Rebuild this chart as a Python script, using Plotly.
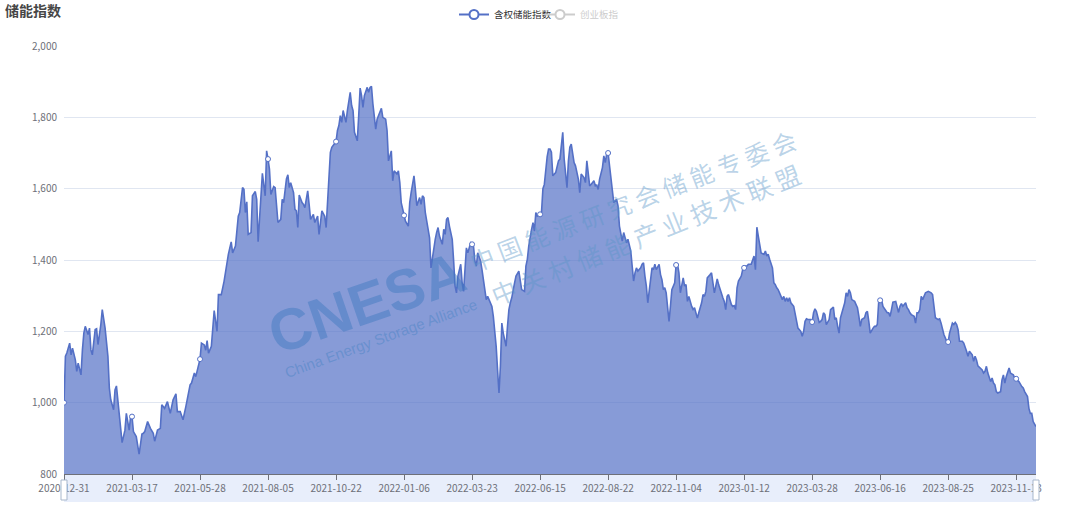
import plotly.graph_objects as go

# (trading-day index since 2020-12-31, index value)
readings_2021 = [
    (0, 1000), (1, 1130), (2, 1139), (4, 1167), (5, 1134), (6, 1153), (8, 1120), (9, 1088), (10, 1111),
    (12, 1078), (13, 1148), (14, 1195), (15, 1214), (17, 1191), (18, 1209), (19, 1148), (20, 1134),
    (22, 1205), (23, 1207), (24, 1163), (26, 1219), (27, 1261), (29, 1209), (31, 1130), (32, 1041),
    (33, 1008), (35, 980), (36, 1036), (37, 1047), (39, 970), (40, 933), (41, 888), (43, 923), (44, 970),
    (46, 923), (47, 961), (48, 961), (49, 919), (51, 905), (53, 856), (55, 912), (56, 914), (57, 919),
    (59, 947), (61, 928), (63, 914), (64, 892), (66, 923), (68, 928), (69, 994), (71, 984), (73, 1003),
    (75, 970), (77, 1008), (79, 1025), (80, 975), (82, 975), (83, 966), (84, 952), (86, 989), (87, 1013),
    (89, 1050), (90, 1055), (92, 1083), (93, 1073), (96, 1122), (97, 1167), (99, 1162), (100, 1147),
    (101, 1174), (102, 1139), (104, 1158), (106, 1258), (108, 1200), (109, 1303), (111, 1303), (113, 1341),
    (115, 1397), (116, 1416), (118, 1451), (119, 1420), (121, 1439), (123, 1523), (124, 1533), (126, 1603),
    (127, 1598), (128, 1533), (129, 1563), (130, 1472), (132, 1477), (133, 1580), (135, 1592), (136, 1570),
    (137, 1451), (139, 1598), (140, 1643), (142, 1580), (143, 1706), (144, 1683), (145, 1655), (146, 1584),
    (148, 1606), (149, 1603), (151, 1505), (153, 1514), (154, 1570), (155, 1561), (157, 1627), (158, 1639),
    (159, 1603), (160, 1617), (162, 1589), (163, 1542), (164, 1538), (165, 1491), (166, 1582), (168, 1561),
    (169, 1556), (170, 1547), (172, 1594), (173, 1556), (174, 1514), (176, 1528), (177, 1505), (179, 1523),
    (180, 1472), (182, 1538), (184, 1523), (185, 1491), (186, 1575), (188, 1702), (189, 1716), (192, 1732),
    (193, 1763), (194, 1777), (195, 1805), (196, 1786), (197, 1819), (199, 1786), (200, 1819), (201, 1842),
    (202, 1870), (203, 1833), (204, 1819), (205, 1758), (207, 1734), (208, 1805), (209, 1882), (210, 1861),
    (211, 1828), (212, 1861), (214, 1884), (215, 1870), (216, 1884), (217, 1887), (218, 1838), (220, 1767),
    (221, 1795), (222, 1805), (224, 1825), (225, 1800), (227, 1795), (228, 1763), (229, 1678), (231, 1706),
    (232, 1622), (233, 1650), (235, 1641), (236, 1650),
]
readings_2022 = [
    (237, 1617), (238, 1561), (240, 1525), (241, 1509), (243, 1495), (244, 1561), (245, 1589), (247, 1636),
    (248, 1598), (249, 1552), (251, 1575), (252, 1556), (253, 1580), (254, 1575), (255, 1533), (257, 1481),
    (258, 1462), (259, 1378), (261, 1439), (262, 1458), (263, 1477), (264, 1491), (265, 1467), (267, 1444),
    (268, 1486), (269, 1472), (270, 1514), (271, 1519), (272, 1495), (274, 1458), (275, 1397), (276, 1327),
    (277, 1308), (278, 1355), (280, 1388), (281, 1336), (282, 1312), (283, 1388), (284, 1434), (285, 1420),
    (287, 1448), (288, 1444), (289, 1439), (290, 1397), (291, 1383), (292, 1420), (294, 1397), (295, 1373),
    (296, 1345), (297, 1308), (298, 1289), (299, 1298), (301, 1280), (302, 1270), (303, 1242), (304, 1205),
    (305, 1158), (306, 1092), (307, 1027), (308, 1102), (309, 1223), (310, 1195), (312, 1158), (313, 1214),
    (314, 1261), (315, 1280), (316, 1294), (318, 1336), (319, 1355), (321, 1369), (322, 1336), (323, 1317),
    (325, 1312), (326, 1383), (327, 1402), (328, 1439), (330, 1486), (331, 1505), (332, 1481), (333, 1533),
    (334, 1523), (336, 1528), (337, 1533), (338, 1600), (339, 1612), (340, 1660), (341, 1690), (342, 1711),
    (343, 1711), (344, 1702), (345, 1636), (347, 1645), (348, 1664), (349, 1678), (350, 1683), (351, 1720),
    (352, 1758), (353, 1683), (354, 1645), (355, 1603), (356, 1678), (357, 1716), (358, 1725), (360, 1673),
    (361, 1664), (362, 1645), (363, 1627), (364, 1589), (365, 1641), (367, 1631), (368, 1617), (369, 1678),
    (370, 1636), (371, 1608), (372, 1612), (374, 1622), (375, 1608), (376, 1610), (377, 1598), (378, 1627),
    (380, 1659), (381, 1692), (382, 1673), (383, 1697), (384, 1700), (385, 1664), (386, 1627), (387, 1598),
    (388, 1561), (390, 1570), (391, 1552), (392, 1495), (393, 1467), (394, 1453), (395, 1477), (396, 1462),
    (397, 1448), (398, 1458), (400, 1425), (401, 1383), (402, 1341), (403, 1364), (404, 1378), (405, 1369),
    (407, 1378), (408, 1388), (409, 1392), (410, 1355), (411, 1327), (412, 1280), (414, 1345), (415, 1378),
    (416, 1373), (417, 1388), (418, 1373), (420, 1388), (421, 1359), (422, 1345), (423, 1317), (424, 1322),
    (425, 1308), (426, 1260), (427, 1228), (428, 1270), (429, 1317), (431, 1336), (432, 1386), (433, 1388),
    (434, 1364), (435, 1308), (437, 1350), (438, 1327), (439, 1331), (440, 1284), (441, 1298), (443, 1270),
    (444, 1261), (445, 1266), (446, 1252), (447, 1237), (448, 1252), (450, 1280), (451, 1303), (452, 1298),
    (453, 1312), (454, 1350), (456, 1359), (457, 1364), (458, 1336), (459, 1308), (460, 1327), (461, 1347),
    (462, 1331), (463, 1317), (465, 1294), (466, 1284), (467, 1261), (468, 1298), (469, 1303), (471, 1275),
    (472, 1270), (473, 1272),
]
readings_2023 = [
    (474, 1261), (475, 1322), (476, 1341), (478, 1355), (479, 1373), (480, 1378), (481, 1383), (482, 1383),
    (483, 1388), (485, 1388), (486, 1397), (487, 1411), (488, 1373), (489, 1492), (490, 1467), (491, 1439),
    (492, 1420), (494, 1416), (495, 1425), (496, 1411), (497, 1416), (498, 1402), (500, 1378), (501, 1336),
    (502, 1331), (503, 1322), (504, 1317), (505, 1308), (507, 1289), (508, 1298), (509, 1284), (510, 1294),
    (511, 1284), (512, 1294), (513, 1280), (515, 1270), (516, 1252), (517, 1228), (518, 1209), (520, 1200),
    (521, 1186), (522, 1200), (523, 1228), (524, 1235), (525, 1233), (527, 1233), (528, 1226), (529, 1252),
    (530, 1263), (531, 1256), (533, 1225), (534, 1228), (535, 1233), (536, 1252), (537, 1247), (538, 1219),
    (540, 1233), (541, 1261), (542, 1266), (543, 1268), (544, 1233), (545, 1238), (546, 1214), (547, 1195),
    (548, 1238), (549, 1252), (551, 1280), (552, 1308), (553, 1298), (554, 1317), (555, 1308), (556, 1289),
    (558, 1284), (559, 1275), (560, 1266), (561, 1242), (562, 1214), (563, 1233), (565, 1238), (566, 1252),
    (567, 1256), (568, 1228), (569, 1195), (571, 1209), (572, 1214), (573, 1214), (574, 1219), (575, 1284),
    (576, 1287), (577, 1289), (578, 1270), (580, 1256), (581, 1252), (582, 1252), (583, 1242), (584, 1261),
    (585, 1282), (587, 1284), (588, 1270), (589, 1253), (590, 1270), (591, 1278), (592, 1270), (594, 1280),
    (595, 1266), (596, 1261), (597, 1252), (598, 1247), (600, 1242), (601, 1223), (602, 1252), (603, 1252),
    (604, 1261), (605, 1298), (606, 1289), (607, 1298), (608, 1308), (610, 1312), (611, 1310), (612, 1308),
    (613, 1303), (614, 1270), (615, 1238), (617, 1233), (618, 1235), (619, 1223), (620, 1205), (621, 1191),
    (623, 1172), (624, 1170), (625, 1195), (627, 1223), (628, 1219), (629, 1225), (630, 1219), (631, 1205),
    (632, 1172), (634, 1172), (635, 1167), (636, 1158), (637, 1144), (638, 1130), (639, 1144), (641, 1134),
    (642, 1116), (643, 1130), (644, 1120), (645, 1103), (647, 1097), (648, 1092), (649, 1083), (650, 1088),
    (651, 1102), (652, 1083), (654, 1059), (655, 1069), (656, 1055), (657, 1050), (658, 1031), (659, 1027),
    (661, 1031), (662, 1064), (663, 1078), (664, 1055), (665, 1073), (667, 1097), (668, 1083), (669, 1081),
    (670, 1078), (671, 1069), (672, 1067), (674, 1059), (675, 1050), (676, 1045), (677, 1041), (678, 1031),
    (680, 1017), (681, 984), (682, 970), (683, 970), (684, 947), (685, 938), (686, 933),
]

tick_labels = ["2020-12-31", "2021-03-17", "2021-05-28", "2021-08-05", "2021-10-22", "2022-01-06",
               "2022-03-23", "2022-06-15", "2022-08-22", "2022-11-04", "2023-01-12", "2023-03-28",
               "2023-06-16", "2023-08-25", "2023-11-13"]
label_every = 48  # trading days between axis labels
last_day = 686

series_names = ["含权储能指数", "创业板指"]
title_text = "储能指数"

readings = readings_2021 + readings_2022 + readings_2023
days = [d for d, _ in readings]
values = [v for _, v in readings]
value_by_day = dict(readings)
tick_days = [i * label_every for i in range(len(tick_labels))]

BLUE = "#5470c6"
FILL = "rgba(84,112,198,0.7)"
CJK = "Noto Sans CJK SC"

fig = go.Figure()
fig.add_trace(go.Scatter(
    x=days, y=values, mode="lines", line=dict(color=BLUE, width=1.6),
    fill="tozeroy", fillcolor=FILL, showlegend=False, hoverinfo="skip"))
fig.add_trace(go.Scatter(
    x=tick_days, y=[value_by_day[d] for d in tick_days], mode="markers",
    marker=dict(symbol="circle", size=5, color="white", line=dict(color=BLUE, width=1)),
    showlegend=False, hoverinfo="skip"))
fig.add_trace(go.Scatter(
    x=[None], y=[None], mode="lines+markers", name=series_names[0],
    line=dict(color=BLUE, width=2),
    marker=dict(symbol="circle", size=9, color="white", line=dict(color=BLUE, width=2)),
    legend="legend"))
fig.add_trace(go.Scatter(
    x=[None], y=[None], mode="lines+markers", name=series_names[1],
    line=dict(color="#cccccc", width=2),
    marker=dict(symbol="circle", size=9, color="white", line=dict(color="#cccccc", width=2)),
    legend="legend2"))

L, R, T, B = 64, 44, 46, 31
W, H = 1080, 505
pw, ph = W - L - R, H - T - B


def px(xp):
    return (xp - L) / pw


def py(yp):
    return (H - B - yp) / ph


shapes = [
    # data zoom slider band
    dict(type="rect", xref="x domain", yref="paper", x0=0, x1=1, y0=py(502), y1=py(474.5),
         fillcolor="#e8eefb", line=dict(width=0), layer="below"),
    dict(type="rect", xref="x domain", yref="paper", x0=-3 / pw, x1=3 / pw, y0=py(500), y1=py(480),
         fillcolor="white", line=dict(color="#a7b7cc", width=1), layer="above"),
    dict(type="rect", xref="x domain", yref="paper", x0=1 - 3 / pw, x1=1 + 3 / pw, y0=py(500), y1=py(480),
         fillcolor="white", line=dict(color="#a7b7cc", width=1), layer="above"),
]


def mark(text, x, y, angle, family, size, color):
    return dict(text=text, xref="paper", yref="paper", x=px(x), y=py(y), xanchor="center",
                yanchor="middle", showarrow=False, textangle=angle,
                font=dict(family=family, size=size, color=color))


annotations = [
    dict(text=f"<b>{title_text}</b>", xref="paper", yref="paper", x=px(3), y=py(10),
         xanchor="left", yanchor="middle", showarrow=False,
         font=dict(family=CJK, size=14, color="#464646")),
    # watermark
    mark("<b>CNESA</b>", 366, 302, -19, "Liberation Sans", 58, "rgba(60,120,190,0.45)"),
    mark("China Energy Storage Alliance", 380, 338, -20, "Liberation Sans", 15, "rgba(70,130,195,0.45)"),
    mark("中 国 能 源 研 究 会 储 能 专 委 会", 632, 200, -21, CJK, 24, "rgba(90,150,200,0.42)"),
    mark("中 关 村 储 能 产 业 技 术 联 盟", 645, 234, -22, CJK, 25, "rgba(90,150,200,0.42)"),
]

fig.update_layout(
    width=W, height=H,
    margin=dict(l=L, r=R, t=T, b=B, autoexpand=False),
    paper_bgcolor="white", plot_bgcolor="white",
    font=dict(family=CJK, size=10, color="#6e7079"),
    shapes=shapes, annotations=annotations,
    legend=dict(x=px(454), y=py(0), xanchor="left", yanchor="top", orientation="h",
                font=dict(family=CJK, size=9.5, color="#333333"), bgcolor="rgba(0,0,0,0)"),
    legend2=dict(x=px(540), y=py(0), xanchor="left", yanchor="top", orientation="h",
                 font=dict(family=CJK, size=9.5, color="#cccccc"), bgcolor="rgba(0,0,0,0)"),
    xaxis=dict(range=[0, last_day], tickvals=tick_days, ticktext=tick_labels,
               showgrid=False, zeroline=False, showline=True, linecolor="#6e7079", linewidth=1,
               ticks="outside", ticklen=5, tickcolor="#6e7079",
               tickfont=dict(family=CJK, size=10, color="#6e7079")),
    yaxis=dict(range=[800, 2000], tickvals=list(range(800, 2001, 200)), tickformat=",d",
               showgrid=True, gridcolor="#e0e6f1", zeroline=False, showline=False,
               ticks="", ticklabelstandoff=6,
               tickfont=dict(family=CJK, size=10, color="#6e7079")),
)

fig.write_html("out.html", config={"displayModeBar": False},
               post_script="document.body.style.margin='0';")
